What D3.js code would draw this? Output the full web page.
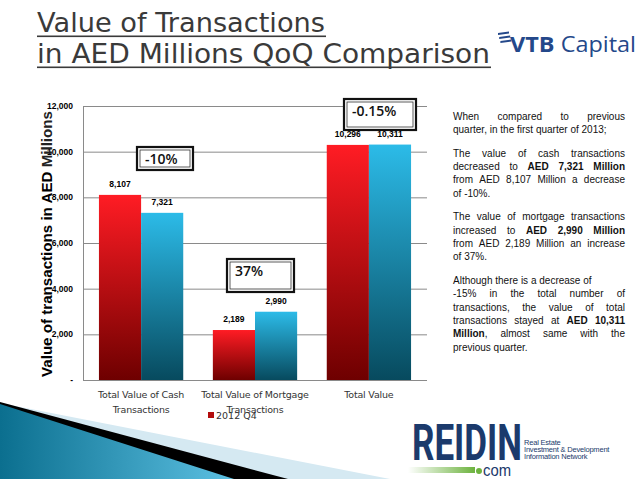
<!DOCTYPE html>
<meta charset="utf-8">
<script src="https://d3js.org/d3.v7.min.js"></script>
<style>
body { margin: 0; background: #fff; }
text { font-family: "Liberation Sans", Arial, sans-serif; }
text.dv { font-family: "DejaVu Sans", sans-serif; }
</style>
<body>
</body>
<script>
// data
var categories = ["Total Value of Cash|Transactions", "Total Value of Mortgage|Transactions", "Total Value"];
var series = ["2012 Q4", "2013 Q1"];
var q4 = [8107, 2189, 10296];
var q1 = [7321, 2990, 10311];
var changes = ["-10%", "37%", "-0.15%"];
var yTicks = [0, 2000, 4000, 6000, 8000, 10000, 12000];

var width = 638, height = 479;
var svg = d3.select("body").append("svg")
    .attr("width", width)
    .attr("height", height);

var defs = svg.append("defs");
function grad(id, top, bottom) {
  var g = defs.append("linearGradient").attr("id", id)
      .attr("x1", 0).attr("y1", 0).attr("x2", 0).attr("y2", 1);
  g.append("stop").attr("offset", "0%").attr("stop-color", top);
  g.append("stop").attr("offset", "100%").attr("stop-color", bottom);
}
grad("gRed", "#ff1c24", "#6e0000");
grad("gBlue", "#2cbbe8", "#074a5e");
var sw = defs.append("linearGradient").attr("id", "gSwoosh");
sw.append("stop").attr("offset", "0%").attr("stop-color", "#0b6f8f");
sw.append("stop").attr("offset", "100%").attr("stop-color", "#5cc0e2");
var gg = defs.append("linearGradient").attr("id", "gGreen");
gg.append("stop").attr("offset", "0%").attr("stop-color", "#fff");
gg.append("stop").attr("offset", "100%").attr("stop-color", "#6db33f");

// bottom-left swoosh
svg.append("path").attr("d", "M0,403L390,479L0,479Z").attr("fill", "#d5e9f2");
svg.append("path").attr("d", "M0,402L288,479L0,479Z").attr("fill", "#000");
svg.append("path").attr("d", "M0,404L234,479L0,479Z").attr("fill", "url(#gSwoosh)");

// title
var title = svg.append("g").attr("fill", "#3a3a3a");
[["Value of Transactions", 288], ["in AED Millions QoQ Comparison", 453]].forEach(function(s, i) {
  title.append("text").attr("class", "dv").attr("x", 37).attr("y", 32 + i * 31)
      .attr("font-size", "27px").attr("textLength", s[1]).attr("lengthAdjust", "spacingAndGlyphs")
      .text(s[0]);
  title.append("rect").attr("x", 37).attr("y", 35.5 + i * 31).attr("width", s[1] + 1).attr("height", 1.6);
});

// VTB logo
var vtb = svg.append("g").attr("fill", "#24488a");
[0, 4, 8].forEach(function(o) {
  vtb.append("path").attr("d", "M" + (498 + o * 0.3) + "," + (33 + o) + "l11,-1.5l0,2l-11,1.5z");
});
vtb.append("text").attr("x", 510).attr("y", 52)
    .attr("textLength", 126).attr("lengthAdjust", "spacingAndGlyphs")
    .style("font-family", "'Open Sans', sans-serif").style("font-size", "22px")
    .html("<tspan style='font-weight:700'>VTB</tspan> Capital");

// chart
var x0 = d3.scaleBand().domain(d3.range(categories.length)).range([83, 427])
    .paddingInner(0.26).paddingOuter(0.14);
var x1 = d3.scaleBand().domain(d3.range(series.length)).range([0, x0.bandwidth()]);
var y = d3.scaleLinear().domain([0, 12000]).range([380, 106]);

var grid = svg.append("g");
grid.selectAll("line").data(yTicks).enter().append("line")
    .attr("x1", 83).attr("x2", 427)
    .attr("y1", function(d) { return y(d) + 0.5; })
    .attr("y2", function(d) { return y(d) + 0.5; })
    .attr("stroke", "#8a8a8a").attr("stroke-width", 1);
grid.append("line").attr("x1", 83.5).attr("x2", 83.5).attr("y1", y(12000)).attr("y2", y(0))
    .attr("stroke", "#8a8a8a");

svg.append("g").selectAll("text").data(yTicks).enter().append("text")
    .attr("x", 73).attr("y", function(d) { return y(d) + 3; })
    .attr("text-anchor", "end").attr("font-weight", "bold").attr("font-size", "8.5px")
    .text(function(d) { return d === 0 ? "-" : d3.format(",")(d); });

var groups = svg.append("g").selectAll("g").data(categories).enter().append("g")
    .attr("transform", function(d, i) { return "translate(" + x0(i) + ",0)"; });

groups.each(function(c, i) {
  var g = d3.select(this);
  var vals = [q4[i], q1[i]];
  vals.forEach(function(v, s) {
    g.append("rect").attr("x", x1(s)).attr("width", x1.bandwidth())
        .attr("y", y(v)).attr("height", y(0) - y(v))
        .attr("fill", s === 0 ? "url(#gRed)" : "url(#gBlue)");
    g.append("text").attr("x", x1(s) + x1.bandwidth() / 2).attr("y", y(v) - 8)
        .attr("text-anchor", "middle").attr("font-weight", "bold").attr("font-size", "8.5px")
        .text(d3.format(",")(v));
  });
  var lines = c.split("|");
  lines.forEach(function(l, k) {
    g.append("text").attr("class", "dv").attr("x", x0.bandwidth() / 2).attr("y", 398 + k * 15)
        .attr("text-anchor", "middle").attr("fill", "#333").attr("font-size", "9.5px")
        .style("letter-spacing", "-0.2px")
        .text(l);
  });
});

// change boxes
var boxPos = [{x: 137, y: 147, w: 56, h: 23, tx: 145},
              {x: 227, y: 259, w: 67, h: 33, tx: 235},
              {x: 344, y: 99, w: 72, h: 31, tx: 352}];
changes.forEach(function(c, i) {
  var b = boxPos[i];
  svg.append("rect").attr("x", b.x).attr("y", b.y).attr("width", b.w).attr("height", b.h)
      .attr("fill", "#fff").attr("stroke", "#111").attr("stroke-width", 2.2);
  svg.append("rect").attr("x", b.x + 3).attr("y", b.y + 3).attr("width", b.w - 6).attr("height", b.h - 6)
      .attr("fill", "none").attr("stroke", "#333").attr("stroke-width", 0.8);
  svg.append("text").attr("x", b.tx).attr("y", b.y + 17).attr("font-size", "14px")
      .style("font-family", "'Open Sans', sans-serif").attr("font-weight", 600).attr("fill", "#111")
      .text(c);
});

// y axis title
svg.append("text").attr("transform", "translate(52,244) rotate(-90)")
    .attr("text-anchor", "middle").attr("font-size", "15px").attr("font-weight", "bold")
    .attr("fill", "#000").attr("textLength", 266).attr("lengthAdjust", "spacingAndGlyphs")
    .html("Value of transactions in AED <tspan fill='#222'>Millions</tspan>");

// legend
svg.append("rect").attr("x", 208).attr("y", 412).attr("width", 6).attr("height", 6).attr("fill", "#b30d0d");
svg.append("text").attr("class", "dv").attr("x", 216).attr("y", 419).attr("font-size", "9.5px").attr("fill", "#333")
    .text(series[0]);

// side text, "*" marks bold words, "~" ends the bold part inside a word
var paras = [
  [["When compared to previous", 1], ["quarter, in the first quarter of 2013;", 0]],
  [["The value of cash transactions", 1], ["decreased to *AED *7,321 *Million", 1],
   ["from AED 8,107 Million a decrease", 1], ["of -10%.", 0]],
  [["The value of mortgage transactions", 1], ["increased to *AED *2,990 *Million", 1],
   ["from AED 2,189 Million an increase", 1], ["of 37%.", 0]],
  [["Although there is a decrease of", 0], ["-15% in the total number of", 1],
   ["transactions, the value of total", 1], ["transactions stayed at *AED *10,311", 1],
   ["*Million~, almost same with the", 1], ["previous quarter.", 0]]
];
var side = svg.append("g").attr("font-size", "10px").attr("fill", "#111");
var lineNo = 0;
paras.forEach(function(p, pi) {
  p.forEach(function(l) {
    var yy = 119.5 + lineNo * 13.3 + pi * 10.5;
    var words = l[0].split(" ").map(function(w) {
      var t = side.append("text").attr("y", yy);
      if (w[0] === "*") {
        var parts = w.slice(1).split("~");
        t.append("tspan").attr("font-weight", "bold").text(parts[0]);
        if (parts[1]) t.append("tspan").text(parts[1]);
      } else {
        t.text(w);
      }
      return {t: t, w: t.node().getComputedTextLength()};
    });
    var total = d3.sum(words, function(d) { return d.w; });
    var gap = l[1] ? (172 - total) / (words.length - 1) : 2.8;
    var xx = 453;
    words.forEach(function(d) { d.t.attr("x", xx); xx += d.w + gap; });
    lineNo++;
  });
});

// REIDIN logo
var rd = svg.append("g").attr("fill", "#1b3a6c");
rd.append("text").attr("x", 412).attr("y", 460).attr("font-size", "50px").attr("font-weight", "bold")
    .attr("textLength", 110).attr("lengthAdjust", "spacingAndGlyphs")
    .style("font-family", "Roboto, sans-serif").text("REIDIN");
svg.append("rect").attr("x", 408).attr("y", 467).attr("width", 67).attr("height", 6).attr("fill", "url(#gGreen)");
svg.append("circle").attr("cx", 479).attr("cy", 471).attr("r", 3).attr("fill", "#6db33f");
rd.append("text").attr("x", 483).attr("y", 476).attr("font-size", "17px")
    .attr("textLength", 28).attr("lengthAdjust", "spacingAndGlyphs").text("com");
["Real Estate", "Investment & Development", "Information Network"].forEach(function(s, i) {
  rd.append("text").attr("x", 524).attr("y", 445 + i * 7.2).attr("font-size", "7.5px")
      .style("letter-spacing", "-0.2px").text(s);
});
</script>
